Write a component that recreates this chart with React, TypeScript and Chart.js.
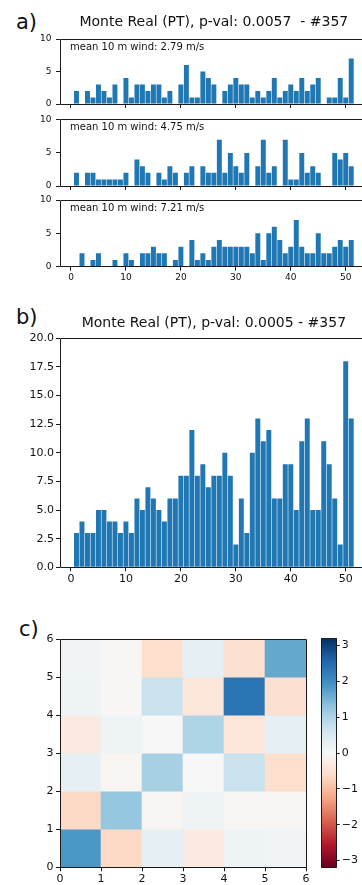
import React, { useEffect, useRef } from "react";
import { Chart, registerables } from "chart.js";

Chart.register(...registerables);

const FONT = "'DejaVu Sans', 'Liberation Sans', sans-serif";
Chart.defaults.font.family = FONT;
Chart.defaults.color = "#111";

// ---------------- data ----------------
const weeks = [1, 2, 3, 4, 5, 6, 7, 8, 9, 10, 11, 12, 13, 14, 15, 16, 17, 18, 19, 20, 21, 22, 23, 24, 25, 26, 27, 28, 29, 30, 31, 32, 33, 34, 35, 36, 37, 38, 39, 40, 41, 42, 43, 44, 45, 46, 47, 48, 49, 50, 51];
const calmWind = [2, 0, 2, 1, 3, 2, 1, 3, 0, 4, 1, 3, 3, 2, 3, 3, 1, 2, 0, 3, 6, 1, 1, 5, 4, 3, 0, 2, 3, 4, 3, 3, 1, 2, 1, 2, 4, 1, 2, 3, 2, 4, 2, 3, 4, 0, 1, 1, 4, 1, 7];
const moderateWind = [2, 0, 2, 2, 1, 1, 1, 1, 1, 2, 0, 4, 3, 2, 0, 2, 1, 3, 2, 0, 2, 3, 0, 3, 2, 2, 7, 2, 5, 3, 2, 5, 0, 3, 7, 2, 3, 0, 7, 1, 1, 5, 2, 3, 2, 0, 0, 5, 4, 5, 3];
const strongWind = [0, 2, 0, 1, 2, 0, 0, 1, 0, 2, 1, 0, 2, 2, 3, 2, 2, 0, 1, 3, 0, 4, 1, 2, 1, 3, 4, 3, 3, 3, 3, 3, 2, 5, 1, 5, 6, 4, 2, 3, 7, 3, 2, 2, 5, 2, 2, 3, 4, 3, 4];
const allEvents = [3, 4, 3, 3, 5, 5, 4, 4, 3, 4, 3, 6, 5, 7, 6, 5, 4, 6, 6, 8, 8, 12, 8, 9, 7, 8, 8, 10, 8, 2, 6, 3, 10, 13, 11, 12, 6, 6, 9, 9, 5, 11, 13, 5, 5, 11, 9, 6, 2, 18, 13];

const windNotes = ["mean 10 m wind: 2.79 m/s", "mean 10 m wind: 4.75 m/s", "mean 10 m wind: 7.21 m/s"];
const titleA = "Monte Real (PT), p-val: 0.0057  - #357";
const titleB = "Monte Real (PT), p-val: 0.0005 - #357";

const weekTicks = [0, 10, 20, 30, 40, 50];
const weekRange = [-2, 54];
const smallCountTicks = [0, 5, 10];
const totalCountTicks = [0, 2.5, 5, 7.5, 10, 12.5, 15, 17.5, 20];

const gridCols = [0, 1, 2, 3, 4, 5];
const gridRows = [0, 1, 2, 3, 4, 5];
const heatTicks = [0, 1, 2, 3, 4, 5, 6];
// heatValues[row][col], row 0 is the bottom row (y 0..1)
const heatValues = [
  [1.86, -0.65, 0.29, -0.3, 0.15, 0.1],
  [-0.65, 1.25, -0.08, 0.15, -0.03, -0.05],
  [0.29, -0.08, 1.06, 0.0, 0.71, -0.56],
  [-0.3, 0.15, 0.0, 0.99, -0.4, 0.3],
  [0.15, -0.03, 0.71, -0.4, 2.35, -0.5],
  [0.1, -0.05, -0.56, 0.3, -0.5, 1.65],
];
const colorRange = [-3.2, 3.2];
const colorbarTicks = [-3, -2, -1, 0, 1, 2, 3];

// ---------------- styles ----------------
const BAR_BLUE = "#1f77b4";
const SPINE = "#1a1a1a";
const TEXT = "#111";
const RDBU = [
  [103, 0, 31], [178, 24, 43], [214, 96, 77], [244, 165, 130], [253, 219, 199],
  [247, 247, 247], [209, 229, 240], [146, 197, 222], [67, 147, 195], [33, 102, 172], [5, 48, 97],
];

function rdbu(v: number): string {
  let t = (v - colorRange[0]) / (colorRange[1] - colorRange[0]);
  t = Math.max(0, Math.min(1, t));
  const p = t * (RDBU.length - 1);
  const i = Math.min(RDBU.length - 2, Math.floor(p));
  const f = p - i;
  const c = RDBU[i].map((a, k) => Math.round(a + (RDBU[i + 1][k] - a) * f));
  return `rgb(${c[0]},${c[1]},${c[2]})`;
}

const framePlugin = {
  id: "frame",
  afterDatasetsDraw(chart: any) {
    const { ctx, chartArea: a } = chart;
    ctx.save();
    ctx.strokeStyle = SPINE;
    ctx.lineWidth = 1;
    const l = Math.floor(a.left) + 0.5;
    const t = Math.floor(a.top) + 0.5;
    const r = Math.floor(a.right) + 0.5;
    const b = Math.floor(a.bottom) + 0.5;
    ctx.beginPath();
    ctx.moveTo(l, t); ctx.lineTo(r, t); ctx.lineTo(r, b); ctx.lineTo(l, b); ctx.closePath();
    ctx.stroke();
    ctx.restore();
  },
};

const notePlugin = {
  id: "note",
  afterDatasetsDraw(chart: any, _args: any, opts: any) {
    if (!opts || !opts.text) return;
    const { ctx, chartArea: a } = chart;
    ctx.save();
    ctx.font = `${opts.size}px ${FONT}`;
    ctx.fillStyle = TEXT;
    ctx.textBaseline = "alphabetic";
    ctx.textAlign = "left";
    ctx.fillText(opts.text, a.left + opts.dx, a.top + opts.dy);
    ctx.restore();
  },
};

const gradientPlugin = {
  id: "cbar",
  beforeDatasetsDraw(chart: any) {
    const { ctx, chartArea: a } = chart;
    const g = ctx.createLinearGradient(0, a.bottom, 0, a.top);
    RDBU.forEach((c, i) => g.addColorStop(i / (RDBU.length - 1), `rgb(${c[0]},${c[1]},${c[2]})`));
    ctx.save();
    ctx.fillStyle = g;
    ctx.fillRect(a.left, a.top, a.right - a.left, a.bottom - a.top);
    ctx.restore();
  },
};

function tickGrid(len: number) {
  return { drawOnChartArea: false, drawTicks: true, tickLength: len, color: SPINE, lineWidth: 1, offset: false };
}

type BarPanel = {
  values: number[];
  yMax: number;
  yTicks: number[];
  yFmt?: (v: number) => string;
  showX: boolean;
  title?: string;
  titlePad?: { top: number; bottom: number };
  padTop: number;
  padRight: number;
  xHeight: number;
  yWidth: number;
  font: number;
  yPad: number;
  xPad: number;
  note?: string;
};

function barConfig(p: BarPanel): any {
  return {
    type: "bar",
    data: {
      datasets: [
        {
          data: weeks.map((w, i) => ({ x: w, y: p.values[i] })),
          backgroundColor: BAR_BLUE,
          borderWidth: 0,
          barPercentage: 0.9,
          categoryPercentage: 1,
        },
      ],
    },
    options: {
      responsive: false,
      animation: false,
      devicePixelRatio: 1,
      layout: { padding: { top: p.padTop, right: p.padRight, left: 0, bottom: 0 } },
      plugins: {
        legend: { display: false },
        tooltip: { enabled: false },
        title: p.title
          ? {
              display: true,
              text: p.title,
              fullSize: false,
              align: "center",
              color: TEXT,
              font: { size: 14, weight: "normal", family: FONT },
              padding: p.titlePad,
            }
          : { display: false },
        note: { text: p.note, size: 10, dx: 10, dy: 10.5 },
      },
      scales: {
        x: {
          type: "linear",
          min: weekRange[0],
          max: weekRange[1],
          offset: false,
          grid: tickGrid(4),
          border: { display: false },
          ticks: { display: p.showX, font: { size: p.font }, color: TEXT, padding: p.xPad, maxRotation: 0, autoSkip: false },
          afterBuildTicks: (s: any) => { s.ticks = weekTicks.map((v) => ({ value: v })); },
          afterFit: (s: any) => { s.height = p.xHeight; },
        },
        y: {
          type: "linear",
          min: 0,
          max: p.yMax,
          grid: tickGrid(4),
          border: { display: false },
          ticks: { font: { size: p.font }, color: TEXT, padding: p.yPad, callback: p.yFmt },
          afterBuildTicks: (s: any) => { s.ticks = p.yTicks.map((v) => ({ value: v })); },
          afterFit: (s: any) => { s.width = p.yWidth; },
        },
      },
    },
    plugins: [framePlugin, notePlugin],
  };
}

function heatConfig(): any {
  const cells: any[] = [];
  const colors: string[] = [];
  gridRows.forEach((r) => {
    gridCols.forEach((c) => {
      cells.push({ x: c + 0.5, y: [r, r + 1] });
      colors.push(rdbu(heatValues[r][c]));
    });
  });
  return {
    type: "bar",
    data: {
      datasets: [
        { data: cells, backgroundColor: colors, borderWidth: 0, barPercentage: 1, categoryPercentage: 1 },
      ],
    },
    options: {
      responsive: false,
      animation: false,
      devicePixelRatio: 1,
      layout: { padding: { top: 19, right: 14, left: 0, bottom: 0 } },
      plugins: { legend: { display: false }, tooltip: { enabled: false } },
      scales: {
        x: {
          type: "linear",
          min: 0,
          max: 6,
          offset: false,
          grid: tickGrid(4),
          border: { display: false },
          ticks: { font: { size: 11 }, color: TEXT, padding: 1, maxRotation: 0, autoSkip: false },
          afterBuildTicks: (s: any) => { s.ticks = heatTicks.map((v) => ({ value: v })); },
          afterFit: (s: any) => { s.height = 17.7; },
        },
        y: {
          type: "linear",
          min: 0,
          max: 6,
          grid: tickGrid(4),
          border: { display: false },
          ticks: { font: { size: 11 }, color: TEXT, padding: 2.5 },
          afterBuildTicks: (s: any) => { s.ticks = heatTicks.map((v) => ({ value: v })); },
          afterFit: (s: any) => { s.width = 60; },
        },
      },
    },
    plugins: [framePlugin],
  };
}

function colorbarConfig(): any {
  return {
    type: "scatter",
    data: { datasets: [] },
    options: {
      responsive: false,
      animation: false,
      devicePixelRatio: 1,
      layout: { padding: { top: 18.3, right: 0, left: 21, bottom: 17.3 } },
      plugins: { legend: { display: false }, tooltip: { enabled: false } },
      scales: {
        x: { type: "linear", display: false, min: 0, max: 1 },
        y: {
          type: "linear",
          position: "right",
          min: colorRange[0],
          max: colorRange[1],
          grid: tickGrid(3),
          border: { display: false },
          ticks: {
            font: { size: 11 },
            color: TEXT,
            padding: 2,
            callback: (v: number) => (v < 0 ? "\u2212" + Math.abs(v) : String(v)),
          },
          afterBuildTicks: (s: any) => { s.ticks = colorbarTicks.map((v) => ({ value: v })); },
          afterFit: (s: any) => { s.width = 25.3; },
        },
      },
    },
    plugins: [gradientPlugin, framePlugin],
  };
}

function ChartBox(props: { left: number; top: number; width: number; height: number; make: () => any }) {
  const ref = useRef<HTMLCanvasElement>(null);
  useEffect(() => {
    const chart = new Chart(ref.current as HTMLCanvasElement, props.make());
    return () => chart.destroy();
  }, []);
  return (
    <canvas
      ref={ref}
      width={props.width}
      height={props.height}
      style={{ position: "absolute", left: props.left, top: props.top, width: props.width, height: props.height }}
    />
  );
}

function PanelLabel(props: { text: string; left: number; top: number }) {
  return (
    <div
      style={{
        position: "absolute",
        left: props.left,
        top: props.top,
        fontFamily: FONT,
        fontSize: 21,
        lineHeight: "21px",
        color: TEXT,
        whiteSpace: "nowrap",
      }}
    >
      {props.text}
    </div>
  );
}

const oneDecimal = (v: number) => v.toFixed(1);

export default function App() {
  return (
    <div
      style={{
        position: "absolute",
        left: 0,
        top: 0,
        width: 362,
        height: 885,
        overflow: "hidden",
        background: "#fff",
      }}
    >
      <PanelLabel text="a)" left={16} top={12} />
      <PanelLabel text="b)" left={16} top={307} />
      <PanelLabel text="c)" left={19} top={619} />

      <ChartBox
        left={0} top={0} width={372} height={114}
        make={() =>
          barConfig({
            values: calmWind, yMax: 10, yTicks: smallCountTicks, showX: false,
            title: titleA, titlePad: { top: 14.1, bottom: 8.1 },
            padTop: 0, padRight: 4.3, xHeight: 9.3, yWidth: 60, font: 9, yPad: 4.5, xPad: 2, note: windNotes[0],
          })
        }
      />
      <ChartBox
        left={0} top={110} width={372} height={86}
        make={() =>
          barConfig({
            values: moderateWind, yMax: 10, yTicks: smallCountTicks, showX: false,
            padTop: 9, padRight: 4.3, xHeight: 10, yWidth: 60, font: 9, yPad: 4.5, xPad: 2, note: windNotes[1],
          })
        }
      />
      <ChartBox
        left={0} top={190} width={372} height={100}
        make={() =>
          barConfig({
            values: strongWind, yMax: 10, yTicks: smallCountTicks, showX: true,
            padTop: 10, padRight: 4.3, xHeight: 23.3, yWidth: 60, font: 9, yPad: 4.5, xPad: 2, note: windNotes[2],
          })
        }
      />
      <ChartBox
        left={0} top={300} width={372} height={290}
        make={() =>
          barConfig({
            values: allEvents, yMax: 20, yTicks: totalCountTicks, yFmt: oneDecimal, showX: true,
            title: titleB, titlePad: { top: 14.6, bottom: 6.9 },
            padTop: 0, padRight: 4.3, xHeight: 22.7, yWidth: 60, font: 11, yPad: 2, xPad: 1,
          })
        }
      />
      <ChartBox left={0} top={620} width={320} height={265} make={heatConfig} />
      <ChartBox left={300} top={620} width={62} height={265} make={colorbarConfig} />
    </div>
  );
}
